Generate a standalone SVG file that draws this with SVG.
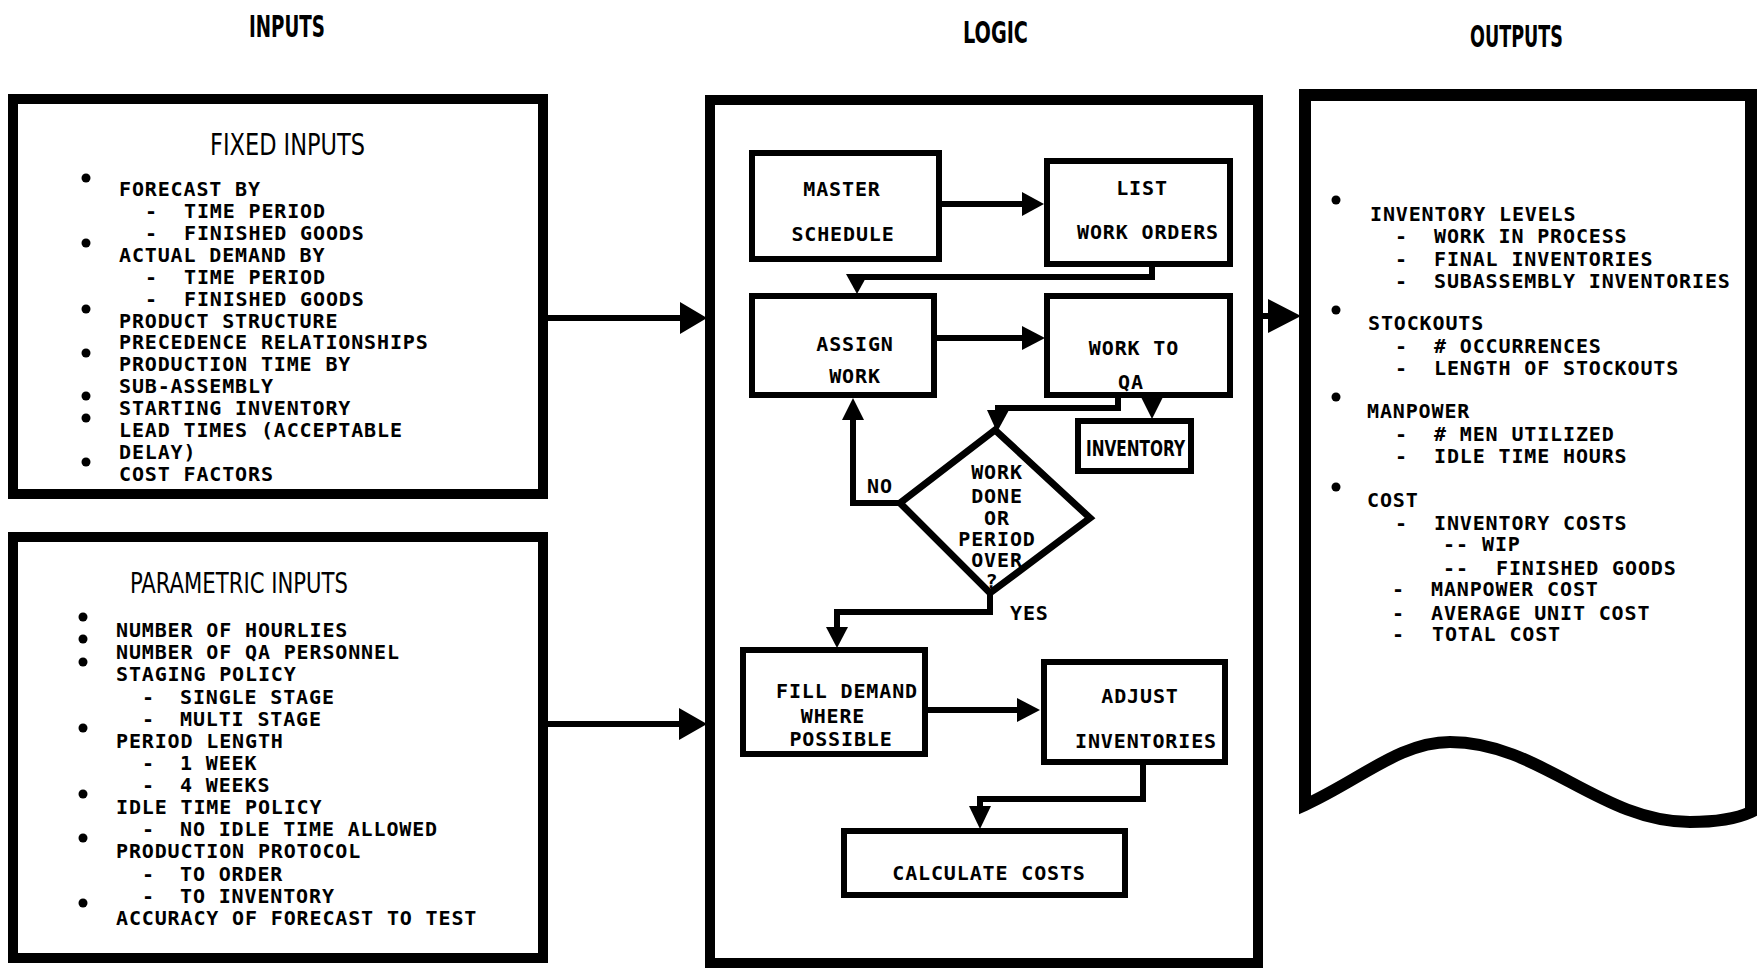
<svg xmlns="http://www.w3.org/2000/svg" width="1760" height="969" viewBox="0 0 1760 969">
<style>
.frame{fill:#fff;stroke:#000;stroke-width:10}
.box{fill:#fff;stroke:#000;stroke-width:6}
.t{font-family:"DejaVu Sans Mono","Liberation Mono",monospace;font-size:20px;letter-spacing:0.86px;font-weight:bold;fill:#000}
.m{text-anchor:middle}
.h{font-family:"DejaVu Sans Condensed","DejaVu Sans","Liberation Sans",sans-serif;font-stretch:condensed;font-weight:bold;fill:#000}
.ht{font-weight:normal}
.c{fill:none;stroke:#000;stroke-width:6;stroke-linejoin:miter;stroke-linecap:butt}
.ah{fill:#000}
.b{fill:#000}
</style>
<rect width="1760" height="969" fill="#fff"/>

<g id="headers">
<text class="h" x="249" y="37" font-size="31" textLength="76" lengthAdjust="spacingAndGlyphs">INPUTS</text>
<text class="h" x="963" y="43" font-size="31" textLength="65" lengthAdjust="spacingAndGlyphs">LOGIC</text>
<text class="h" x="1470" y="47" font-size="31" textLength="93" lengthAdjust="spacingAndGlyphs">OUTPUTS</text>
</g>

<g id="fixed-inputs">
<rect class="frame" x="13" y="99" width="530" height="395"/>
<text class="h ht" x="210" y="155" font-size="30" textLength="155" lengthAdjust="spacingAndGlyphs">FIXED INPUTS</text>
<circle class="b" cx="86" cy="178" r="4.5"/>
<circle class="b" cx="86" cy="243" r="4.5"/>
<circle class="b" cx="86" cy="309" r="4.5"/>
<circle class="b" cx="86" cy="353" r="4.5"/>
<circle class="b" cx="86" cy="396" r="4.5"/>
<circle class="b" cx="86" cy="418" r="4.5"/>
<circle class="b" cx="86" cy="462" r="4.5"/>
<text class="t" x="119" y="196">FORECAST BY</text>
<text class="t" x="145" y="218">-</text><text class="t" x="184" y="218">TIME PERIOD</text>
<text class="t" x="145" y="240">-</text><text class="t" x="184" y="240">FINISHED GOODS</text>
<text class="t" x="119" y="262">ACTUAL DEMAND BY</text>
<text class="t" x="145" y="284">-</text><text class="t" x="184" y="284">TIME PERIOD</text>
<text class="t" x="145" y="306">-</text><text class="t" x="184" y="306">FINISHED GOODS</text>
<text class="t" x="119" y="328">PRODUCT STRUCTURE</text>
<text class="t" x="119" y="349">PRECEDENCE RELATIONSHIPS</text>
<text class="t" x="119" y="371">PRODUCTION TIME BY</text>
<text class="t" x="119" y="393">SUB-ASSEMBLY</text>
<text class="t" x="119" y="415">STARTING INVENTORY</text>
<text class="t" x="119" y="437">LEAD TIMES (ACCEPTABLE</text>
<text class="t" x="119" y="459">DELAY)</text>
<text class="t" x="119" y="481">COST FACTORS</text>
</g>

<g id="parametric-inputs">
<rect class="frame" x="13" y="537" width="530" height="421"/>
<text class="h ht" x="130" y="593" font-size="29" textLength="218" lengthAdjust="spacingAndGlyphs">PARAMETRIC INPUTS</text>
<circle class="b" cx="83" cy="617" r="4.5"/>
<circle class="b" cx="83" cy="639" r="4.5"/>
<circle class="b" cx="83" cy="662" r="4.5"/>
<circle class="b" cx="83" cy="728" r="4.5"/>
<circle class="b" cx="83" cy="794" r="4.5"/>
<circle class="b" cx="83" cy="838" r="4.5"/>
<circle class="b" cx="83" cy="903" r="4.5"/>
<text class="t" x="116" y="637">NUMBER OF HOURLIES</text>
<text class="t" x="116" y="659">NUMBER OF QA PERSONNEL</text>
<text class="t" x="116" y="681">STAGING POLICY</text>
<text class="t" x="142" y="704">-</text><text class="t" x="180" y="704">SINGLE STAGE</text>
<text class="t" x="142" y="726">-</text><text class="t" x="180" y="726">MULTI STAGE</text>
<text class="t" x="116" y="748">PERIOD LENGTH</text>
<text class="t" x="142" y="770">-</text><text class="t" x="180" y="770">1 WEEK</text>
<text class="t" x="142" y="792">-</text><text class="t" x="180" y="792">4 WEEKS</text>
<text class="t" x="116" y="814">IDLE TIME POLICY</text>
<text class="t" x="142" y="836">-</text><text class="t" x="180" y="836">NO IDLE TIME ALLOWED</text>
<text class="t" x="116" y="858">PRODUCTION PROTOCOL</text>
<text class="t" x="142" y="881">-</text><text class="t" x="180" y="881">TO ORDER</text>
<text class="t" x="142" y="903">-</text><text class="t" x="180" y="903">TO INVENTORY</text>
<text class="t" x="116" y="925">ACCURACY OF FORECAST TO TEST</text>
</g>

<g id="logic">
<rect class="frame" x="710" y="100" width="548" height="863"/>
</g>

<g id="master-schedule">
<rect class="box" x="752" y="153" width="187" height="106"/>
<text class="t m" x="842" y="196">MASTER</text>
<text class="t m" x="843" y="241">SCHEDULE</text>
</g>
<g id="list-work-orders">
<rect class="box" x="1047" y="161" width="183" height="103"/>
<text class="t m" x="1142" y="195">LIST</text>
<text class="t m" x="1148" y="239">WORK ORDERS</text>
</g>
<g id="assign-work">
<rect class="box" x="752" y="296" width="182" height="99"/>
<text class="t m" x="855" y="351">ASSIGN</text>
<text class="t m" x="855" y="383">WORK</text>
</g>
<g id="work-to-qa">
<rect class="box" x="1047" y="296" width="183" height="99"/>
<text class="t m" x="1134" y="355">WORK TO</text>
<text class="t m" x="1131" y="389">QA</text>
</g>
<g id="inventory">
<rect class="box" x="1078" y="421" width="113" height="50"/>
<text class="h" x="1086" y="456" font-size="21" textLength="99" lengthAdjust="spacingAndGlyphs">INVENTORY</text>
</g>
<g id="decision">
<polygon points="995,430 1090,518 990,593 900,503" fill="#fff" stroke="#000" stroke-width="7" stroke-linejoin="miter"/>
<text class="t m" x="997" y="479" font-size="19.5">WORK</text>
<text class="t m" x="997" y="503" font-size="19.5">DONE</text>
<text class="t m" x="997" y="525" font-size="19.5">OR</text>
<text class="t m" x="997" y="546" font-size="19.5">PERIOD</text>
<text class="t m" x="997" y="567" font-size="19.5">OVER</text>
<text class="t m" x="992" y="588" font-size="15">?</text>
</g>
<g id="fill-demand">
<rect class="box" x="743" y="650" width="182" height="104"/>
<text class="t m" x="847" y="698">FILL DEMAND</text>
<text class="t m" x="833" y="723">WHERE</text>
<text class="t m" x="841" y="746">POSSIBLE</text>
</g>
<g id="adjust-inventories">
<rect class="box" x="1044" y="662" width="181" height="100"/>
<text class="t m" x="1140" y="703">ADJUST</text>
<text class="t m" x="1146" y="748">INVENTORIES</text>
</g>
<g id="calculate-costs">
<rect class="box" x="844" y="831" width="281" height="64"/>
<text class="t m" x="989" y="880">CALCULATE COSTS</text>
</g>

<g id="outputs">
<path d="M1305,805 L1305,95 L1751,95 L1751,812 C1740,817 1720,822 1690,822 C1600,822 1540,742 1450,742 C1400,742 1360,780 1305,805 Z" fill="#fff" stroke="#000" stroke-width="12" stroke-linejoin="miter"/>
<circle class="b" cx="1336" cy="200" r="4.5"/>
<circle class="b" cx="1336" cy="310" r="4.5"/>
<circle class="b" cx="1336" cy="397" r="4.5"/>
<circle class="b" cx="1336" cy="487" r="4.5"/>
<text class="t" x="1370" y="221">INVENTORY LEVELS</text>
<text class="t" x="1395" y="243">-</text><text class="t" x="1434" y="243">WORK IN PROCESS</text>
<text class="t" x="1395" y="266">-</text><text class="t" x="1434" y="266">FINAL INVENTORIES</text>
<text class="t" x="1395" y="288">-</text><text class="t" x="1434" y="288">SUBASSEMBLY INVENTORIES</text>
<text class="t" x="1368" y="330">STOCKOUTS</text>
<text class="t" x="1395" y="353">-</text><text class="t" x="1434" y="353"># OCCURRENCES</text>
<text class="t" x="1395" y="375">-</text><text class="t" x="1434" y="375">LENGTH OF STOCKOUTS</text>
<text class="t" x="1367" y="418">MANPOWER</text>
<text class="t" x="1395" y="441">-</text><text class="t" x="1434" y="441"># MEN UTILIZED</text>
<text class="t" x="1395" y="463">-</text><text class="t" x="1434" y="463">IDLE TIME HOURS</text>
<text class="t" x="1367" y="507">COST</text>
<text class="t" x="1395" y="530">-</text><text class="t" x="1434" y="530">INVENTORY COSTS</text>
<text class="t" x="1443" y="551">--</text><text class="t" x="1482" y="551">WIP</text>
<text class="t" x="1443" y="575">--</text><text class="t" x="1496" y="575">FINISHED GOODS</text>
<text class="t" x="1392" y="596">-</text><text class="t" x="1431" y="596">MANPOWER COST</text>
<text class="t" x="1392" y="620">-</text><text class="t" x="1431" y="620">AVERAGE UNIT COST</text>
<text class="t" x="1392" y="641">-</text><text class="t" x="1432" y="641">TOTAL COST</text>
</g>

<g id="connectors">
<path class="c" d="M547,318 H684"/>
<polygon class="ah" points="680,302 680,334 707,318"/>
<path class="c" d="M547,724 H682"/>
<polygon class="ah" points="679,708 679,740 707,724"/>
<path class="c" d="M1262,316 H1272"/>
<polygon class="ah" points="1268,299 1268,333 1301,316"/>

<path class="c" d="M939,204 H1024"/>
<polygon class="ah" points="1022,192 1022,216 1044,204"/>
<path class="c" d="M1152,264 V277 H857 V280"/>
<polygon class="ah" points="846,274 868,274 857,294"/>
<path class="c" d="M934,338 H1024"/>
<polygon class="ah" points="1022,326 1022,350 1045,338"/>
<path class="c" d="M1118,395 V408 H998 V414"/>
<polygon class="ah" points="987,410 1009,410 997,432"/>
<polygon class="ah" points="1141,397 1163,397 1152,419"/>
<path class="c" d="M900,503 H853 V416"/>
<polygon class="ah" points="842,420 864,420 853,398"/>
<path class="c" d="M990,593 V612 H837 V630"/>
<polygon class="ah" points="826,627 848,627 837,648"/>
<path class="c" d="M925,710 H1020"/>
<polygon class="ah" points="1017,698 1017,722 1040,710"/>
<path class="c" d="M1143,762 V799 H980 V810"/>
<polygon class="ah" points="969,806 991,806 980,829"/>
<text class="t" x="880" y="493" font-size="18.5" text-anchor="middle">NO</text>
<text class="t" x="1010" y="620" font-size="19">YES</text>
</g>
</svg>
